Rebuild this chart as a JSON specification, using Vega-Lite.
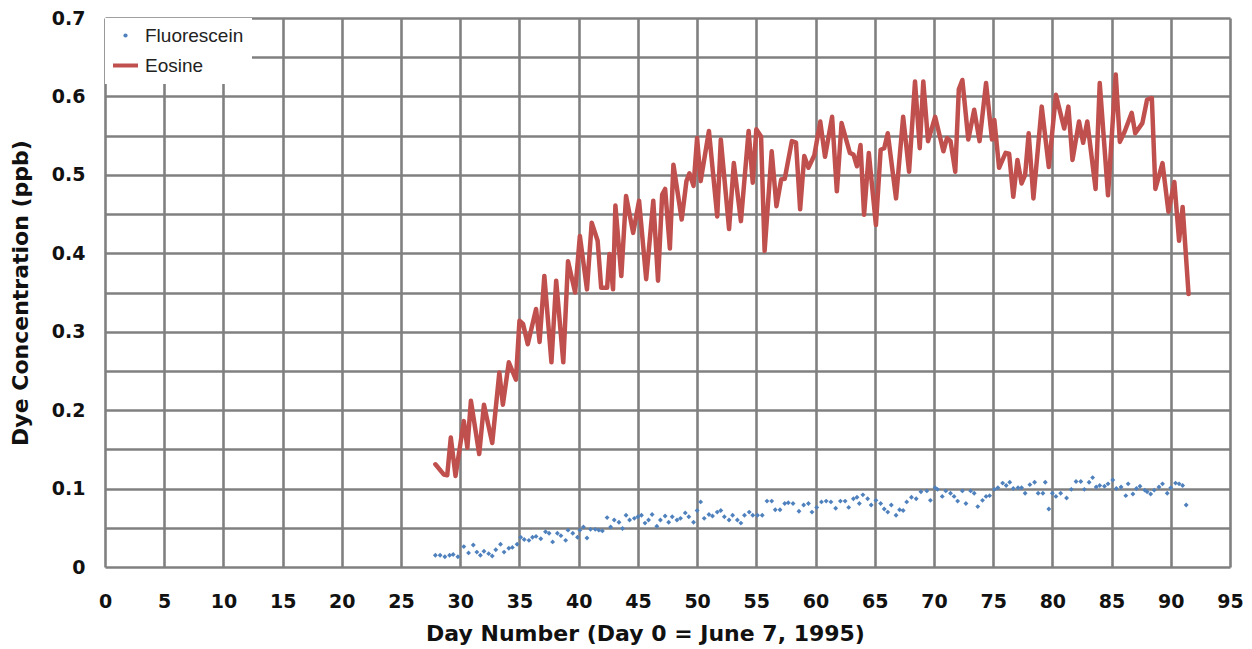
{
  "$schema": "https://vega.github.io/schema/vega-lite/v6.json",
  "autosize": "none",
  "width": 1125,
  "height": 549,
  "padding": {"left": 105, "top": 18, "right": 22, "bottom": 82},
  "background": "white",
  "config": {
    "view": {"stroke": null},
    "axis": {
      "grid": true,
      "gridColor": "#808080",
      "gridWidth": 2.6,
      "gridOpacity": 1,
      "domain": false,
      "ticks": false,
      "labelFlush": false,
      "labelFont": "DejaVu Sans",
      "labelFontWeight": "bold",
      "labelFontSize": 19,
      "labelColor": "#111111",
      "titleFont": "DejaVu Sans",
      "titleFontWeight": "bold",
      "titleFontSize": 22,
      "titleColor": "#111111"
    },
    "legend": {
      "orient": "top-left",
      "offset": 0,
      "padding": 8,
      "fillColor": "white",
      "labelFont": "Liberation Sans",
      "labelFontSize": 19,
      "labelColor": "#222222",
      "labelOffset": 10,
      "symbolOffset": 3,
      "rowPadding": 10,
      "symbolSize": 625
    }
  },
  "data": {
    "values": [
      {"series": "Eosine", "day": 27.9, "ppb": 0.131},
      {"series": "Eosine", "day": 28.6, "ppb": 0.118},
      {"series": "Eosine", "day": 28.9, "ppb": 0.117},
      {"series": "Eosine", "day": 29.2, "ppb": 0.165},
      {"series": "Eosine", "day": 29.6, "ppb": 0.116},
      {"series": "Eosine", "day": 30.3, "ppb": 0.186},
      {"series": "Eosine", "day": 30.6, "ppb": 0.152},
      {"series": "Eosine", "day": 30.9, "ppb": 0.212},
      {"series": "Eosine", "day": 31.6, "ppb": 0.144},
      {"series": "Eosine", "day": 32.0, "ppb": 0.207},
      {"series": "Eosine", "day": 32.7, "ppb": 0.158},
      {"series": "Eosine", "day": 33.3, "ppb": 0.248},
      {"series": "Eosine", "day": 33.6, "ppb": 0.207},
      {"series": "Eosine", "day": 34.1, "ppb": 0.261},
      {"series": "Eosine", "day": 34.7, "ppb": 0.239},
      {"series": "Eosine", "day": 35.0, "ppb": 0.314},
      {"series": "Eosine", "day": 35.3, "ppb": 0.31},
      {"series": "Eosine", "day": 35.7, "ppb": 0.284},
      {"series": "Eosine", "day": 36.4, "ppb": 0.329},
      {"series": "Eosine", "day": 36.7, "ppb": 0.287},
      {"series": "Eosine", "day": 37.1, "ppb": 0.371},
      {"series": "Eosine", "day": 37.7, "ppb": 0.261},
      {"series": "Eosine", "day": 38.1, "ppb": 0.365},
      {"series": "Eosine", "day": 38.7, "ppb": 0.261},
      {"series": "Eosine", "day": 39.1, "ppb": 0.39},
      {"series": "Eosine", "day": 39.7, "ppb": 0.35},
      {"series": "Eosine", "day": 40.1, "ppb": 0.422},
      {"series": "Eosine", "day": 40.7, "ppb": 0.354},
      {"series": "Eosine", "day": 41.1, "ppb": 0.439},
      {"series": "Eosine", "day": 41.6, "ppb": 0.416},
      {"series": "Eosine", "day": 41.9, "ppb": 0.356},
      {"series": "Eosine", "day": 42.4, "ppb": 0.356},
      {"series": "Eosine", "day": 42.6, "ppb": 0.399},
      {"series": "Eosine", "day": 42.9, "ppb": 0.354},
      {"series": "Eosine", "day": 43.1, "ppb": 0.461},
      {"series": "Eosine", "day": 43.6, "ppb": 0.371},
      {"series": "Eosine", "day": 44.0, "ppb": 0.473},
      {"series": "Eosine", "day": 44.6, "ppb": 0.426},
      {"series": "Eosine", "day": 45.1, "ppb": 0.467},
      {"series": "Eosine", "day": 45.7, "ppb": 0.367},
      {"series": "Eosine", "day": 46.3, "ppb": 0.467},
      {"series": "Eosine", "day": 46.7, "ppb": 0.365},
      {"series": "Eosine", "day": 47.05, "ppb": 0.475},
      {"series": "Eosine", "day": 47.3, "ppb": 0.482},
      {"series": "Eosine", "day": 47.7, "ppb": 0.406},
      {"series": "Eosine", "day": 48.0, "ppb": 0.513},
      {"series": "Eosine", "day": 48.7, "ppb": 0.443},
      {"series": "Eosine", "day": 49.1, "ppb": 0.492},
      {"series": "Eosine", "day": 49.35, "ppb": 0.502},
      {"series": "Eosine", "day": 49.7, "ppb": 0.486},
      {"series": "Eosine", "day": 50.0, "ppb": 0.547},
      {"series": "Eosine", "day": 50.3, "ppb": 0.492},
      {"series": "Eosine", "day": 51.0, "ppb": 0.556},
      {"series": "Eosine", "day": 51.7, "ppb": 0.447},
      {"series": "Eosine", "day": 52.0, "ppb": 0.545},
      {"series": "Eosine", "day": 52.7, "ppb": 0.431},
      {"series": "Eosine", "day": 53.1, "ppb": 0.515},
      {"series": "Eosine", "day": 53.7, "ppb": 0.441},
      {"series": "Eosine", "day": 54.35, "ppb": 0.556},
      {"series": "Eosine", "day": 54.7, "ppb": 0.49},
      {"series": "Eosine", "day": 55.0, "ppb": 0.558},
      {"series": "Eosine", "day": 55.4, "ppb": 0.549},
      {"series": "Eosine", "day": 55.7, "ppb": 0.403},
      {"series": "Eosine", "day": 56.3, "ppb": 0.53},
      {"series": "Eosine", "day": 56.7, "ppb": 0.46},
      {"series": "Eosine", "day": 57.1, "ppb": 0.494},
      {"series": "Eosine", "day": 57.4, "ppb": 0.495},
      {"series": "Eosine", "day": 58.0, "ppb": 0.543},
      {"series": "Eosine", "day": 58.35, "ppb": 0.541},
      {"series": "Eosine", "day": 58.7, "ppb": 0.456},
      {"series": "Eosine", "day": 59.05, "ppb": 0.524},
      {"series": "Eosine", "day": 59.4, "ppb": 0.509},
      {"series": "Eosine", "day": 59.9, "ppb": 0.525},
      {"series": "Eosine", "day": 60.4, "ppb": 0.568},
      {"series": "Eosine", "day": 60.8, "ppb": 0.523},
      {"series": "Eosine", "day": 61.4, "ppb": 0.574},
      {"series": "Eosine", "day": 61.8, "ppb": 0.479},
      {"series": "Eosine", "day": 62.2, "ppb": 0.566},
      {"series": "Eosine", "day": 62.9, "ppb": 0.528},
      {"series": "Eosine", "day": 63.2, "ppb": 0.526},
      {"series": "Eosine", "day": 63.5, "ppb": 0.511},
      {"series": "Eosine", "day": 63.8, "ppb": 0.538},
      {"series": "Eosine", "day": 64.1, "ppb": 0.449},
      {"series": "Eosine", "day": 64.5, "ppb": 0.528},
      {"series": "Eosine", "day": 65.1, "ppb": 0.436},
      {"series": "Eosine", "day": 65.5, "ppb": 0.532},
      {"series": "Eosine", "day": 65.8, "ppb": 0.534},
      {"series": "Eosine", "day": 66.1, "ppb": 0.553},
      {"series": "Eosine", "day": 66.8, "ppb": 0.47},
      {"series": "Eosine", "day": 67.4, "ppb": 0.574},
      {"series": "Eosine", "day": 67.9, "ppb": 0.504},
      {"series": "Eosine", "day": 68.4, "ppb": 0.619},
      {"series": "Eosine", "day": 68.8, "ppb": 0.534},
      {"series": "Eosine", "day": 69.1, "ppb": 0.619},
      {"series": "Eosine", "day": 69.5, "ppb": 0.543},
      {"series": "Eosine", "day": 70.1, "ppb": 0.574},
      {"series": "Eosine", "day": 70.8, "ppb": 0.53},
      {"series": "Eosine", "day": 71.1, "ppb": 0.547},
      {"series": "Eosine", "day": 71.4, "ppb": 0.543},
      {"series": "Eosine", "day": 71.8, "ppb": 0.504},
      {"series": "Eosine", "day": 72.1, "ppb": 0.609},
      {"series": "Eosine", "day": 72.4, "ppb": 0.621},
      {"series": "Eosine", "day": 72.9, "ppb": 0.545},
      {"series": "Eosine", "day": 73.4, "ppb": 0.583},
      {"series": "Eosine", "day": 73.85, "ppb": 0.543},
      {"series": "Eosine", "day": 74.4, "ppb": 0.617},
      {"series": "Eosine", "day": 74.9, "ppb": 0.545},
      {"series": "Eosine", "day": 75.1, "ppb": 0.57},
      {"series": "Eosine", "day": 75.5, "ppb": 0.509},
      {"series": "Eosine", "day": 76.05, "ppb": 0.528},
      {"series": "Eosine", "day": 76.35, "ppb": 0.527},
      {"series": "Eosine", "day": 76.7, "ppb": 0.472},
      {"series": "Eosine", "day": 77.05, "ppb": 0.519},
      {"series": "Eosine", "day": 77.4, "ppb": 0.489},
      {"series": "Eosine", "day": 77.7, "ppb": 0.5},
      {"series": "Eosine", "day": 78.0, "ppb": 0.553},
      {"series": "Eosine", "day": 78.4, "ppb": 0.47},
      {"series": "Eosine", "day": 79.1, "ppb": 0.587},
      {"series": "Eosine", "day": 79.7, "ppb": 0.51},
      {"series": "Eosine", "day": 80.3, "ppb": 0.602},
      {"series": "Eosine", "day": 81.0, "ppb": 0.559},
      {"series": "Eosine", "day": 81.35, "ppb": 0.587},
      {"series": "Eosine", "day": 81.7, "ppb": 0.519},
      {"series": "Eosine", "day": 82.25, "ppb": 0.568},
      {"series": "Eosine", "day": 82.6, "ppb": 0.541},
      {"series": "Eosine", "day": 82.95, "ppb": 0.568},
      {"series": "Eosine", "day": 83.65, "ppb": 0.482},
      {"series": "Eosine", "day": 84.0, "ppb": 0.617},
      {"series": "Eosine", "day": 84.7, "ppb": 0.474},
      {"series": "Eosine", "day": 85.35, "ppb": 0.628},
      {"series": "Eosine", "day": 85.7, "ppb": 0.542},
      {"series": "Eosine", "day": 86.1, "ppb": 0.555},
      {"series": "Eosine", "day": 86.7, "ppb": 0.579},
      {"series": "Eosine", "day": 87.0, "ppb": 0.553},
      {"series": "Eosine", "day": 87.6, "ppb": 0.566},
      {"series": "Eosine", "day": 88.0, "ppb": 0.596},
      {"series": "Eosine", "day": 88.4, "ppb": 0.598},
      {"series": "Eosine", "day": 88.7, "ppb": 0.482},
      {"series": "Eosine", "day": 89.3, "ppb": 0.515},
      {"series": "Eosine", "day": 89.8, "ppb": 0.453},
      {"series": "Eosine", "day": 90.3, "ppb": 0.491},
      {"series": "Eosine", "day": 90.7, "ppb": 0.416},
      {"series": "Eosine", "day": 91.0, "ppb": 0.459},
      {"series": "Eosine", "day": 91.5, "ppb": 0.348},
      {"series": "Fluorescein", "day": 27.9, "ppb": 0.015},
      {"series": "Fluorescein", "day": 28.3, "ppb": 0.015},
      {"series": "Fluorescein", "day": 28.7, "ppb": 0.013},
      {"series": "Fluorescein", "day": 29.1, "ppb": 0.015},
      {"series": "Fluorescein", "day": 29.4, "ppb": 0.016},
      {"series": "Fluorescein", "day": 29.8, "ppb": 0.013},
      {"series": "Fluorescein", "day": 30.3, "ppb": 0.026},
      {"series": "Fluorescein", "day": 30.7, "ppb": 0.018},
      {"series": "Fluorescein", "day": 31.1, "ppb": 0.028},
      {"series": "Fluorescein", "day": 31.4, "ppb": 0.019},
      {"series": "Fluorescein", "day": 31.7, "ppb": 0.015},
      {"series": "Fluorescein", "day": 32.0, "ppb": 0.02},
      {"series": "Fluorescein", "day": 32.4, "ppb": 0.017},
      {"series": "Fluorescein", "day": 32.7, "ppb": 0.014},
      {"series": "Fluorescein", "day": 33.0, "ppb": 0.022},
      {"series": "Fluorescein", "day": 33.4, "ppb": 0.029},
      {"series": "Fluorescein", "day": 33.7, "ppb": 0.019},
      {"series": "Fluorescein", "day": 34.1, "ppb": 0.024},
      {"series": "Fluorescein", "day": 34.4, "ppb": 0.025},
      {"series": "Fluorescein", "day": 34.8, "ppb": 0.029},
      {"series": "Fluorescein", "day": 35.1, "ppb": 0.038},
      {"series": "Fluorescein", "day": 35.4, "ppb": 0.035},
      {"series": "Fluorescein", "day": 35.8, "ppb": 0.034},
      {"series": "Fluorescein", "day": 36.1, "ppb": 0.038},
      {"series": "Fluorescein", "day": 36.4, "ppb": 0.039},
      {"series": "Fluorescein", "day": 36.8, "ppb": 0.036},
      {"series": "Fluorescein", "day": 37.2, "ppb": 0.045},
      {"series": "Fluorescein", "day": 37.5, "ppb": 0.043},
      {"series": "Fluorescein", "day": 37.8, "ppb": 0.032},
      {"series": "Fluorescein", "day": 38.2, "ppb": 0.043},
      {"series": "Fluorescein", "day": 38.5, "ppb": 0.04},
      {"series": "Fluorescein", "day": 38.9, "ppb": 0.034},
      {"series": "Fluorescein", "day": 39.1, "ppb": 0.047},
      {"series": "Fluorescein", "day": 39.5, "ppb": 0.043},
      {"series": "Fluorescein", "day": 39.9, "ppb": 0.038},
      {"series": "Fluorescein", "day": 40.1, "ppb": 0.047},
      {"series": "Fluorescein", "day": 40.4, "ppb": 0.051},
      {"series": "Fluorescein", "day": 40.7, "ppb": 0.037},
      {"series": "Fluorescein", "day": 41.0, "ppb": 0.048},
      {"series": "Fluorescein", "day": 41.4, "ppb": 0.048},
      {"series": "Fluorescein", "day": 41.7, "ppb": 0.047},
      {"series": "Fluorescein", "day": 42.0, "ppb": 0.046},
      {"series": "Fluorescein", "day": 42.4, "ppb": 0.063},
      {"series": "Fluorescein", "day": 42.7, "ppb": 0.051},
      {"series": "Fluorescein", "day": 43.0, "ppb": 0.06},
      {"series": "Fluorescein", "day": 43.4, "ppb": 0.057},
      {"series": "Fluorescein", "day": 43.7, "ppb": 0.049},
      {"series": "Fluorescein", "day": 44.0, "ppb": 0.066},
      {"series": "Fluorescein", "day": 44.3, "ppb": 0.06},
      {"series": "Fluorescein", "day": 44.7, "ppb": 0.062},
      {"series": "Fluorescein", "day": 45.0, "ppb": 0.064},
      {"series": "Fluorescein", "day": 45.3, "ppb": 0.066},
      {"series": "Fluorescein", "day": 45.6, "ppb": 0.056},
      {"series": "Fluorescein", "day": 45.9, "ppb": 0.06},
      {"series": "Fluorescein", "day": 46.2, "ppb": 0.067},
      {"series": "Fluorescein", "day": 46.6, "ppb": 0.052},
      {"series": "Fluorescein", "day": 46.9, "ppb": 0.06},
      {"series": "Fluorescein", "day": 47.3, "ppb": 0.065},
      {"series": "Fluorescein", "day": 47.6, "ppb": 0.057},
      {"series": "Fluorescein", "day": 47.9, "ppb": 0.064},
      {"series": "Fluorescein", "day": 48.3, "ppb": 0.06},
      {"series": "Fluorescein", "day": 48.6, "ppb": 0.062},
      {"series": "Fluorescein", "day": 49.0, "ppb": 0.069},
      {"series": "Fluorescein", "day": 49.3, "ppb": 0.064},
      {"series": "Fluorescein", "day": 49.7, "ppb": 0.057},
      {"series": "Fluorescein", "day": 50.0, "ppb": 0.072},
      {"series": "Fluorescein", "day": 50.3, "ppb": 0.083},
      {"series": "Fluorescein", "day": 50.6, "ppb": 0.062},
      {"series": "Fluorescein", "day": 51.0, "ppb": 0.067},
      {"series": "Fluorescein", "day": 51.3, "ppb": 0.065},
      {"series": "Fluorescein", "day": 51.7, "ppb": 0.07},
      {"series": "Fluorescein", "day": 52.0, "ppb": 0.072},
      {"series": "Fluorescein", "day": 52.3, "ppb": 0.064},
      {"series": "Fluorescein", "day": 52.7, "ppb": 0.06},
      {"series": "Fluorescein", "day": 53.0, "ppb": 0.066},
      {"series": "Fluorescein", "day": 53.4, "ppb": 0.06},
      {"series": "Fluorescein", "day": 53.7, "ppb": 0.056},
      {"series": "Fluorescein", "day": 54.0, "ppb": 0.066},
      {"series": "Fluorescein", "day": 54.4, "ppb": 0.07},
      {"series": "Fluorescein", "day": 54.7, "ppb": 0.066},
      {"series": "Fluorescein", "day": 55.1, "ppb": 0.066},
      {"series": "Fluorescein", "day": 55.5, "ppb": 0.066},
      {"series": "Fluorescein", "day": 55.9, "ppb": 0.084},
      {"series": "Fluorescein", "day": 56.3, "ppb": 0.084},
      {"series": "Fluorescein", "day": 56.6, "ppb": 0.073},
      {"series": "Fluorescein", "day": 57.0, "ppb": 0.073},
      {"series": "Fluorescein", "day": 57.4, "ppb": 0.081},
      {"series": "Fluorescein", "day": 57.7, "ppb": 0.082},
      {"series": "Fluorescein", "day": 58.1, "ppb": 0.081},
      {"series": "Fluorescein", "day": 58.6, "ppb": 0.071},
      {"series": "Fluorescein", "day": 59.0, "ppb": 0.079},
      {"series": "Fluorescein", "day": 59.4, "ppb": 0.081},
      {"series": "Fluorescein", "day": 59.7, "ppb": 0.07},
      {"series": "Fluorescein", "day": 60.1, "ppb": 0.076},
      {"series": "Fluorescein", "day": 60.5, "ppb": 0.083},
      {"series": "Fluorescein", "day": 60.9, "ppb": 0.084},
      {"series": "Fluorescein", "day": 61.3, "ppb": 0.083},
      {"series": "Fluorescein", "day": 61.7, "ppb": 0.075},
      {"series": "Fluorescein", "day": 62.1, "ppb": 0.084},
      {"series": "Fluorescein", "day": 62.5, "ppb": 0.084},
      {"series": "Fluorescein", "day": 62.8, "ppb": 0.076},
      {"series": "Fluorescein", "day": 63.2, "ppb": 0.087},
      {"series": "Fluorescein", "day": 63.5, "ppb": 0.089},
      {"series": "Fluorescein", "day": 63.7, "ppb": 0.081},
      {"series": "Fluorescein", "day": 64.0, "ppb": 0.092},
      {"series": "Fluorescein", "day": 64.4, "ppb": 0.087},
      {"series": "Fluorescein", "day": 64.7, "ppb": 0.079},
      {"series": "Fluorescein", "day": 65.1, "ppb": 0.085},
      {"series": "Fluorescein", "day": 65.5, "ppb": 0.081},
      {"series": "Fluorescein", "day": 65.8, "ppb": 0.074},
      {"series": "Fluorescein", "day": 66.1, "ppb": 0.07},
      {"series": "Fluorescein", "day": 66.4, "ppb": 0.079},
      {"series": "Fluorescein", "day": 66.8, "ppb": 0.066},
      {"series": "Fluorescein", "day": 67.1, "ppb": 0.073},
      {"series": "Fluorescein", "day": 67.4, "ppb": 0.072},
      {"series": "Fluorescein", "day": 67.7, "ppb": 0.083},
      {"series": "Fluorescein", "day": 68.1, "ppb": 0.089},
      {"series": "Fluorescein", "day": 68.5, "ppb": 0.087},
      {"series": "Fluorescein", "day": 68.9, "ppb": 0.096},
      {"series": "Fluorescein", "day": 69.4, "ppb": 0.097},
      {"series": "Fluorescein", "day": 69.7, "ppb": 0.085},
      {"series": "Fluorescein", "day": 70.1, "ppb": 0.101},
      {"series": "Fluorescein", "day": 70.3, "ppb": 0.099},
      {"series": "Fluorescein", "day": 70.7, "ppb": 0.09},
      {"series": "Fluorescein", "day": 71.0, "ppb": 0.097},
      {"series": "Fluorescein", "day": 71.4, "ppb": 0.094},
      {"series": "Fluorescein", "day": 71.7, "ppb": 0.09},
      {"series": "Fluorescein", "day": 72.0, "ppb": 0.084},
      {"series": "Fluorescein", "day": 72.4, "ppb": 0.097},
      {"series": "Fluorescein", "day": 72.7, "ppb": 0.081},
      {"series": "Fluorescein", "day": 73.1, "ppb": 0.097},
      {"series": "Fluorescein", "day": 73.4, "ppb": 0.094},
      {"series": "Fluorescein", "day": 73.7, "ppb": 0.077},
      {"series": "Fluorescein", "day": 74.1, "ppb": 0.085},
      {"series": "Fluorescein", "day": 74.4, "ppb": 0.09},
      {"series": "Fluorescein", "day": 74.7, "ppb": 0.091},
      {"series": "Fluorescein", "day": 75.1, "ppb": 0.099},
      {"series": "Fluorescein", "day": 75.4, "ppb": 0.101},
      {"series": "Fluorescein", "day": 75.8, "ppb": 0.107},
      {"series": "Fluorescein", "day": 76.1, "ppb": 0.104},
      {"series": "Fluorescein", "day": 76.4, "ppb": 0.108},
      {"series": "Fluorescein", "day": 76.7, "ppb": 0.1},
      {"series": "Fluorescein", "day": 77.1, "ppb": 0.101},
      {"series": "Fluorescein", "day": 77.4, "ppb": 0.101},
      {"series": "Fluorescein", "day": 77.7, "ppb": 0.094},
      {"series": "Fluorescein", "day": 78.1, "ppb": 0.105},
      {"series": "Fluorescein", "day": 78.5, "ppb": 0.108},
      {"series": "Fluorescein", "day": 78.8, "ppb": 0.094},
      {"series": "Fluorescein", "day": 79.2, "ppb": 0.094},
      {"series": "Fluorescein", "day": 79.4, "ppb": 0.108},
      {"series": "Fluorescein", "day": 79.7, "ppb": 0.074},
      {"series": "Fluorescein", "day": 80.0, "ppb": 0.094},
      {"series": "Fluorescein", "day": 80.3, "ppb": 0.09},
      {"series": "Fluorescein", "day": 80.7, "ppb": 0.094},
      {"series": "Fluorescein", "day": 81.2, "ppb": 0.088},
      {"series": "Fluorescein", "day": 81.6, "ppb": 0.099},
      {"series": "Fluorescein", "day": 82.0, "ppb": 0.109},
      {"series": "Fluorescein", "day": 82.4, "ppb": 0.109},
      {"series": "Fluorescein", "day": 82.7, "ppb": 0.099},
      {"series": "Fluorescein", "day": 83.1, "ppb": 0.108},
      {"series": "Fluorescein", "day": 83.4, "ppb": 0.114},
      {"series": "Fluorescein", "day": 83.7, "ppb": 0.102},
      {"series": "Fluorescein", "day": 84.0, "ppb": 0.104},
      {"series": "Fluorescein", "day": 84.4, "ppb": 0.103},
      {"series": "Fluorescein", "day": 84.7, "ppb": 0.106},
      {"series": "Fluorescein", "day": 85.1, "ppb": 0.111},
      {"series": "Fluorescein", "day": 85.4, "ppb": 0.1},
      {"series": "Fluorescein", "day": 85.8, "ppb": 0.102},
      {"series": "Fluorescein", "day": 86.2, "ppb": 0.091},
      {"series": "Fluorescein", "day": 86.4, "ppb": 0.106},
      {"series": "Fluorescein", "day": 86.8, "ppb": 0.093},
      {"series": "Fluorescein", "day": 87.1, "ppb": 0.1},
      {"series": "Fluorescein", "day": 87.4, "ppb": 0.103},
      {"series": "Fluorescein", "day": 87.8, "ppb": 0.098},
      {"series": "Fluorescein", "day": 88.0, "ppb": 0.096},
      {"series": "Fluorescein", "day": 88.3, "ppb": 0.093},
      {"series": "Fluorescein", "day": 88.6, "ppb": 0.098},
      {"series": "Fluorescein", "day": 89.0, "ppb": 0.102},
      {"series": "Fluorescein", "day": 89.3, "ppb": 0.106},
      {"series": "Fluorescein", "day": 89.7, "ppb": 0.094},
      {"series": "Fluorescein", "day": 90.0, "ppb": 0.101},
      {"series": "Fluorescein", "day": 90.4, "ppb": 0.107},
      {"series": "Fluorescein", "day": 90.7, "ppb": 0.106},
      {"series": "Fluorescein", "day": 91.0, "ppb": 0.104},
      {"series": "Fluorescein", "day": 91.3, "ppb": 0.079}
    ]
  },
  "encoding": {
    "x": {
      "field": "day",
      "type": "quantitative",
      "scale": {"domain": [0, 95], "nice": false, "zero": false},
      "axis": {
        "values": [0, 5, 10, 15, 20, 25, 30, 35, 40, 45, 50, 55, 60, 65, 70, 75, 80, 85, 90, 95],
        "labelPadding": 25,
        "titlePadding": 12,
        "titleX": 540,
        "title": "Day Number (Day 0 = June 7, 1995)"
      }
    },
    "y": {
      "field": "ppb",
      "type": "quantitative",
      "scale": {"domain": [0, 0.7], "nice": false},
      "axis": {
        "values": [0, 0.05, 0.1, 0.15, 0.2, 0.25, 0.3, 0.35, 0.4, 0.45, 0.5, 0.55, 0.6, 0.65, 0.7],
        "labelExpr": "round(datum.value * 20) % 2 == 0 ? (datum.value == 0 ? '0' : format(datum.value, '.1f')) : ''",
        "labelPadding": 20,
        "titlePadding": 19,
        "title": "Dye Concentration (ppb)"
      }
    },
    "color": {
      "field": "series",
      "type": "nominal",
      "scale": {"domain": ["Fluorescein", "Eosine"], "range": ["#4F81BD", "#C0504D"]},
      "legend": {
        "title": null,
        "encode": {
          "symbols": {
            "update": {
              "shape": {"signal": "datum.value === 'Eosine' ? 'stroke' : 'circle'"},
              "size": {"signal": "datum.value === 'Eosine' ? 625 : 18"},
              "strokeWidth": {"signal": "datum.value === 'Eosine' ? 4 : 0"},
              "stroke": {"signal": "datum.value === 'Eosine' ? '#C0504D' : 'transparent'"},
              "fill": {"signal": "datum.value === 'Eosine' ? 'transparent' : '#4F81BD'"},
              "opacity": {"value": 1}
            }
          }
        }
      }
    }
  },
  "layer": [
    {
      "transform": [{"filter": "datum.series === 'Fluorescein'"}],
      "mark": {"type": "point", "filled": true, "shape": "diamond", "size": 24, "opacity": 1}
    },
    {
      "transform": [{"filter": "datum.series === 'Eosine'"}],
      "mark": {"type": "line", "strokeWidth": 4.5, "strokeJoin": "round", "strokeCap": "round"}
    }
  ]
}
